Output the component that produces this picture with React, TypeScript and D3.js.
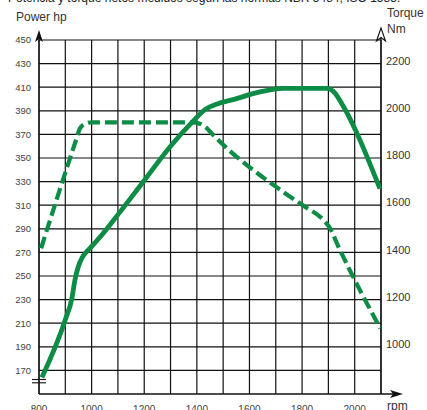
import React from "react";
import * as d3 from "d3";

const TITLE = "Potencia y torque netos medidos según las normas NBR 5484, ISO 1585.";
const powerRpm = [811, 900, 925, 937, 948, 965, 985, 1000, 1032, 1100, 1200, 1300, 1385, 1431, 1480, 1538, 1640, 1728, 1800, 1894, 1925, 1951, 2096];
const powerHp = [164, 213, 231, 247, 257, 266, 271.5, 275, 283, 302, 331, 360, 381, 391, 396, 399.5, 406, 409, 409, 409, 405, 396, 324];
const torqueRpm = [808, 943, 956, 981, 1000, 1200, 1385, 1431, 1462, 1728, 1811, 1881, 1906, 1938, 2097];
const torqueNm = [1406, 1872, 1915, 1936, 1940, 1940, 1940, 1922, 1886, 1645, 1582, 1526, 1491, 1413, 1067];
const rpmTicks = [800, 1000, 1200, 1400, 1600, 1800, 2000];
const hpTicks = [170, 190, 210, 230, 250, 270, 290, 310, 330, 350, 370, 390, 410, 430, 450];
const nmTicks = [1000, 1200, 1400, 1600, 1800, 2000, 2200];

const GREEN = "#0c8c45";
const FONT = "Liberation Sans, Arial, sans-serif";

export default function App() {
  const x = d3.scaleLinear().domain([800, 2100]).range([39, 381]);
  const yHp = d3.scaleLinear().domain([150, 450]).range([394, 40]);
  const yNm = d3.scaleLinear().domain([1000, 2200]).range([344, 61]);

  const gridRpm = d3.range(800, 2101, 100);
  const gridHp = d3.range(170, 451, 20);

  const powerLine = d3
    .line<number>()
    .x((_, i) => x(powerRpm[i]))
    .y((d) => yHp(d))
    .curve(d3.curveMonotoneX);
  const torqueLine = d3
    .line<number>()
    .x((_, i) => x(torqueRpm[i]))
    .y((d) => yNm(d))
    .curve(d3.curveMonotoneX);

  const x0 = x(800);
  const x1 = x(2100);
  const yb = yHp(150);
  const yt = yHp(450);

  return (
    <svg width={427} height={410} style={{ position: "absolute", left: 0, top: 0, background: "#fff" }} fontFamily={FONT}>
      <rect width={427} height={410} fill="#fff" />
      <text x={8} y={2} fontSize={12} fill="#222">{TITLE}</text>
      <text x={16} y={21} fontSize={12} fill="#333">Power hp</text>
      <text x={387} y={17} fontSize={12} fill="#333">Torque</text>
      <text x={387} y={33} fontSize={12} fill="#333">Nm</text>

      {/* grid */}
      {gridRpm.map((r) => (
        <line key={"v" + r} x1={x(r)} x2={x(r)} y1={yt} y2={yb} stroke="#111" strokeWidth={1.2} />
      ))}
      {gridHp.map((h) => (
        <line key={"h" + h} x1={x0} x2={x1} y1={yHp(h)} y2={yHp(h)} stroke="#111" strokeWidth={1.2} />
      ))}

      {/* axes */}
      <line x1={x0} x2={x0} y1={34} y2={yb} stroke="#111" strokeWidth={1.3} />
      <line x1={x1} x2={x1} y1={34} y2={yb} stroke="#111" strokeWidth={1.3} />
      <line x1={x0} x2={396} y1={yb} y2={yb} stroke="#111" strokeWidth={1.3} />
      <path d={`M${x0},30 L${x0 + 4},42 L${x0},39 L${x0 - 4},42 Z`} fill="#111" />
      <path d={`M${x1},28 L${x1 + 4.5},41 L${x1},37.5 L${x1 - 4.5},41 Z`} fill="#fff" stroke="#111" strokeWidth={1.1} />
      <path d={`M403,${yb} L390,${yb - 4} L393,${yb} L390,${yb + 4} Z`} fill="#111" />

      {/* axis break */}
      <line x1={32} x2={46} y1={379.5} y2={379.5} stroke="#111" strokeWidth={1.1} />
      <line x1={32} x2={46} y1={382.8} y2={382.8} stroke="#111" strokeWidth={1.1} />

      {/* tick labels */}
      {hpTicks.map((h) => (
        <text key={"hl" + h} x={31} y={yHp(h)} dy="0.35em" textAnchor="end" fontSize={9.5} fill="#444">{h}</text>
      ))}
      {nmTicks.map((n) => (
        <text key={"nl" + n} x={386} y={yNm(n)} dy="0.35em" fontSize={11} fill="#333">{n}</text>
      ))}
      {rpmTicks.map((r) => (
        <text key={"rl" + r} x={x(r)} y={413} textAnchor="middle" fontSize={10} fill="#444">{r}</text>
      ))}
      <text x={387} y={410} fontSize={12} fill="#333">rpm</text>

      {/* curves */}
      <path d={torqueLine(torqueNm) || ""} fill="none" stroke={GREEN} strokeWidth={4.2} strokeDasharray="12 5" />
      <path d={powerLine(powerHp) || ""} fill="none" stroke={GREEN} strokeWidth={4.8} strokeLinejoin="round" />
    </svg>
  );
}
